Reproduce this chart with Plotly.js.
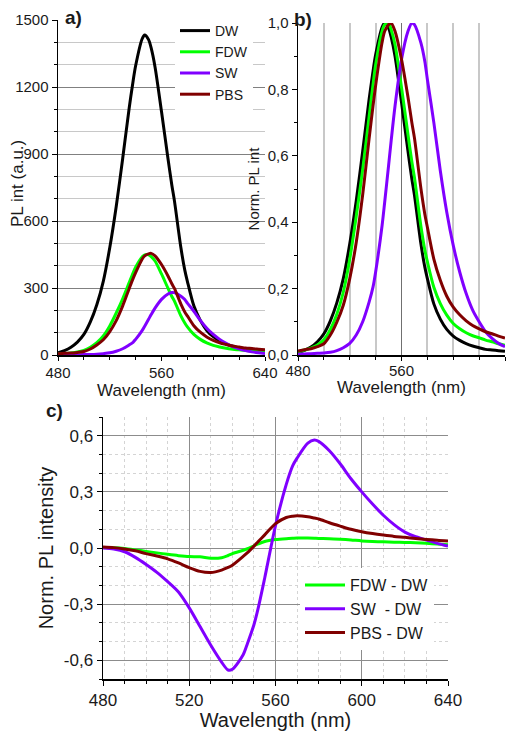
<!DOCTYPE html>
<html>
<head>
<meta charset="utf-8">
<script src="https://cdn.plot.ly/plotly-3.0.1.min.js"></script>
<style>html,body{margin:0;padding:0;background:#fff;}#chart{width:517px;height:731px;}</style>
</head>
<body>
<div id="chart"></div>
<script>
// Wavelength grid (nm)
const wavelength = [480,485,490,495,500,505,510,515,520,525,530,535,538,540,545,547,550,552,555,560,565,568,570,575,578,580,585,590,595,600,605,610,615,620,625,630,635,640];

// Panel a) absolute PL intensity (a.u.)
const dwAbs  = [10,20,35,58,92,148,225,330,480,665,880,1105,1225,1295,1415,1433,1412,1375,1290,1090,880,760,690,480,380,330,220,155,110,82,63,49,39,31,25,21,18,15];
const fdwAbs = [4.5,6.8,9.5,13.5,21,35,55,85,130,188,252,324,367,393,439,448,449,441,421,363,299,262,241,175,143,126,92,70,54,43,36,30,26,23,20,18,15,13];
const swAbs  = [0.6,0.8,1.1,1.4,1.7,2.2,3.6,6.2,9.8,17,28,45,57,70,109,129,160,181,210,249,273,280,279,263,248,232,196,155,120,92,70,52,38,28,20,14,10,7];
const pbsAbs = [5.5,7.3,8.6,11.4,15.5,27,45,68,105,154,220,297,342,369,429,444,453,455,444,405,354,319,298,228,193,175,131,102,81,66,55,47,40,36,31,29,26,23];

// Panel b) normalized PL intensity
const dwNorm  = [0.007,0.014,0.024,0.04,0.064,0.103,0.157,0.23,0.335,0.464,0.614,0.771,0.855,0.904,0.987,1.0,0.985,0.958,0.9,0.761,0.614,0.53,0.482,0.335,0.265,0.23,0.154,0.108,0.077,0.057,0.044,0.034,0.027,0.022,0.017,0.015,0.013,0.011];
const fdwNorm = [0.01,0.015,0.021,0.03,0.046,0.077,0.123,0.189,0.289,0.417,0.559,0.719,0.815,0.874,0.975,0.995,0.998,0.98,0.935,0.806,0.664,0.582,0.535,0.388,0.317,0.281,0.204,0.155,0.12,0.095,0.079,0.067,0.058,0.052,0.045,0.04,0.034,0.029];
const swNorm  = [0.002,0.003,0.004,0.005,0.006,0.008,0.013,0.022,0.035,0.06,0.1,0.16,0.205,0.25,0.39,0.46,0.57,0.645,0.75,0.89,0.975,1.0,0.995,0.94,0.885,0.83,0.7,0.555,0.43,0.33,0.25,0.185,0.135,0.1,0.07,0.05,0.035,0.025];
const pbsNorm = [0.012,0.016,0.019,0.025,0.034,0.06,0.099,0.15,0.23,0.339,0.483,0.653,0.751,0.812,0.942,0.975,0.995,1.0,0.975,0.891,0.777,0.70,0.654,0.502,0.425,0.385,0.289,0.225,0.177,0.144,0.121,0.103,0.089,0.079,0.07,0.064,0.057,0.051];

// Panel c) differences of normalized spectra
const fdwDiff = [0.003,0.001,-0.003,-0.01,-0.018,-0.026,-0.034,-0.041,-0.046,-0.047,-0.055,-0.052,-0.04,-0.03,-0.012,-0.004,0.012,0.022,0.035,0.045,0.05,0.052,0.053,0.053,0.052,0.051,0.05,0.047,0.043,0.038,0.035,0.033,0.031,0.03,0.028,0.025,0.021,0.018];
const swDiff  = [0,-0.006,-0.02,-0.05,-0.088,-0.13,-0.18,-0.235,-0.32,-0.42,-0.52,-0.61,-0.652,-0.648,-0.57,-0.51,-0.41,-0.32,-0.16,0.12,0.34,0.44,0.48,0.56,0.577,0.57,0.52,0.45,0.37,0.30,0.235,0.175,0.125,0.085,0.06,0.043,0.025,0.01];
const pbsDiff = [0.005,0.002,-0.005,-0.015,-0.03,-0.043,-0.058,-0.08,-0.105,-0.125,-0.131,-0.118,-0.104,-0.092,-0.045,-0.025,0.01,0.035,0.07,0.13,0.163,0.17,0.172,0.167,0.16,0.155,0.135,0.117,0.1,0.087,0.077,0.069,0.062,0.057,0.051,0.046,0.041,0.037];

// Tick labels of panel c y axis (hyphen minus, decimal comma)
const cTickVals = [-0.6,-0.3,0,0.3,0.6];
const cTickText = ['-0,6','-0,3','0,0','0,3','0,6'];

const seriesNames = ['DW','FDW','SW','PBS'];
const diffNames = ['FDW - DW','SW\u00a0 - DW','PBS - DW'];
const colors = {DW:'#000000', FDW:'#00ff00', SW:'#8000ff', PBS:'#800000'};

const W = 517, H = 731;
const px = v => v / W;
const py = v => 1 - v / H;
const LW = 3;

function tr(x, y, name, color, xa, ya, extra) {
  return Object.assign({
    type:'scatter', mode:'lines', x:x, y:y, name:name, xaxis:xa, yaxis:ya,
    line:{color:color, width:LW, shape:'spline', smoothing:0.8},
    hoverinfo:'skip'
  }, extra || {});
}

const absData = [dwAbs, fdwAbs, swAbs, pbsAbs];
const normData = [dwNorm, fdwNorm, swNorm, pbsNorm];
const diffData = [fdwDiff, swDiff, pbsDiff];
const diffColors = [colors.FDW, colors.SW, colors.PBS];

const traces = [];
seriesNames.forEach((n,i) => traces.push(tr(wavelength, absData[i], n, colors[n], 'x', 'y', {legend:'legend', showlegend:true})));
seriesNames.forEach((n,i) => traces.push(tr(wavelength, normData[i], n, colors[n], 'x2', 'y2', {showlegend:false})));
diffNames.forEach((n,i) => traces.push(tr(wavelength, diffData[i], n, diffColors[i], 'x3', 'y3', {legend:'legend2', showlegend:true})));

const txt = '#1a1a1a';
const fam = 'Arial, "Liberation Sans", sans-serif';

function xax(domain, anchor, fontSize, titleSize, extra) {
  return Object.assign({
    domain: domain, anchor: anchor, range:[480,640], tick0:480, dtick:80,
    ticks:'outside', ticklen:4, tickwidth:1, tickcolor:'#000',
    showline:true, linecolor:'#000', linewidth:1.5, zeroline:false, showgrid:false,
    tickfont:{size:fontSize, color:txt, family:fam},
    title:{text:'Wavelength (nm)', font:{size:titleSize, color:txt, family:fam}, standoff:2},
    automargin:false, fixedrange:true
  }, extra);
}

const layout = {
  width:W, height:H,
  margin:{l:0, r:0, t:0, b:0},
  paper_bgcolor:'#ffffff', plot_bgcolor:'rgba(0,0,0,0)',
  separators:',.',
  font:{family:fam, size:15, color:txt},
  showlegend:true,
  xaxis: xax([px(58), px(265)], 'y', 15, 17, {
    ticklabelstandoff:-1,
    title:{text:'Wavelength (nm)', font:{size:17, color:txt, family:fam}, standoff:4},
    minor:{dtick:20, ticks:'outside', ticklen:3, tickcolor:'#000', showgrid:false}
  }),
  yaxis: {
    domain:[py(355), py(20)], anchor:'x', range:[0,1500], tick0:0, dtick:300,
    ticks:'outside', ticklen:5, tickcolor:'#000', showline:true, linecolor:'#000', linewidth:1.5,
    zeroline:false, showgrid:true, gridcolor:'#808080', gridwidth:1,
    minor:{dtick:100, ticks:'outside', ticklen:3, tickcolor:'#000', showgrid:true, gridcolor:'#c8c8c8', gridwidth:1.6},
    tickfont:{size:15, color:txt, family:fam}, automargin:false, fixedrange:true
  },
  xaxis2: xax([px(298), px(505)], 'y2', 15, 17, {
    ticklabelstandoff:-3,
    title:{text:'Wavelength (nm)', font:{size:17, color:txt, family:fam}, standoff:0},
    showgrid:true, gridcolor:'#707070', gridwidth:1,
    minor:{dtick:20, ticks:'outside', ticklen:3, tickcolor:'#000', showgrid:true, gridcolor:'#c8c8c8', gridwidth:2}
  }),
  yaxis2: {
    domain:[py(355), py(23)], anchor:'x2', range:[0,1], tick0:0, dtick:0.2, tickformat:'.1f',
    ticks:'outside', ticklen:5, tickcolor:'#000', showline:true, linecolor:'#000', linewidth:1.5,
    zeroline:false, showgrid:false,
    minor:{dtick:0.1, ticks:'outside', ticklen:3, tickcolor:'#000', showgrid:false},
    tickfont:{size:15, color:txt, family:fam},
    title:{text:'Norm. PL int', font:{size:15, color:txt, family:fam}, standoff:4},
    automargin:false, fixedrange:true
  },
  xaxis3: xax([px(103), px(448)], 'y3', 17, 20, {
    dtick:40, showgrid:true, gridcolor:'#8c8c8c', gridwidth:1, ticklen:5,
    title:{text:'Wavelength (nm)', font:{size:20, color:txt, family:fam}, standoff:8},
    minor:{dtick:10, ticks:'outside', ticklen:3, tickcolor:'#000', showgrid:true, gridcolor:'#d4d4d4', gridwidth:1, griddash:'dot'}
  }),
  yaxis3: {
    domain:[py(679), py(417)], anchor:'x3', range:[-0.7,0.7],
    tickmode:'array', tickvals:cTickVals, ticktext:cTickText,
    ticks:'outside', ticklen:5, tickcolor:'#000', showline:true, linecolor:'#000', linewidth:1.5,
    zeroline:false, showgrid:true, gridcolor:'#8c8c8c', gridwidth:1,
    minor:{tickmode:'linear', tick0:0, dtick:0.1, ticks:'outside', ticklen:3, tickcolor:'#000', showgrid:true, gridcolor:'#d4d4d4', gridwidth:1, griddash:'dot'},
    tickfont:{size:17, color:txt, family:fam},
    title:{text:'Norm. PL intensity', font:{size:20, color:txt, family:fam}, standoff:5},
    automargin:false, fixedrange:true
  },
  legend: {
    x:px(175), y:py(15), xanchor:'left', yanchor:'top', bgcolor:'#ffffff', borderwidth:0,
    font:{size:14, color:txt, family:fam}, itemwidth:30, tracegroupgap:0
  },
  legend2: {
    x:px(300), y:py(568), xanchor:'left', yanchor:'top', bgcolor:'#ffffff', borderwidth:0,
    font:{size:16, color:txt, family:fam}, itemwidth:40, tracegroupgap:0
  },
  annotations: [
    {text:'<b>a)</b>', x:px(73), y:py(18), xref:'paper', yref:'paper', xanchor:'center', yanchor:'middle', showarrow:false, font:{size:19, color:txt, family:fam}},
    {text:'<b>b)</b>', x:px(303), y:py(20), xref:'paper', yref:'paper', xanchor:'center', yanchor:'middle', showarrow:false, font:{size:19, color:txt, family:fam}},
    {text:'<b>c)</b>', x:px(54), y:py(410), xref:'paper', yref:'paper', xanchor:'center', yanchor:'middle', showarrow:false, font:{size:19, color:txt, family:fam}},
    {text:'PL int (a.u.)', x:px(17), y:py(184), xref:'paper', yref:'paper', xanchor:'center', yanchor:'middle', showarrow:false, textangle:-90, font:{size:17, color:txt, family:fam}}
  ]
};

Plotly.newPlot('chart', traces, layout, {staticPlot:true, displayModeBar:false});
</script>
</body>
</html>
